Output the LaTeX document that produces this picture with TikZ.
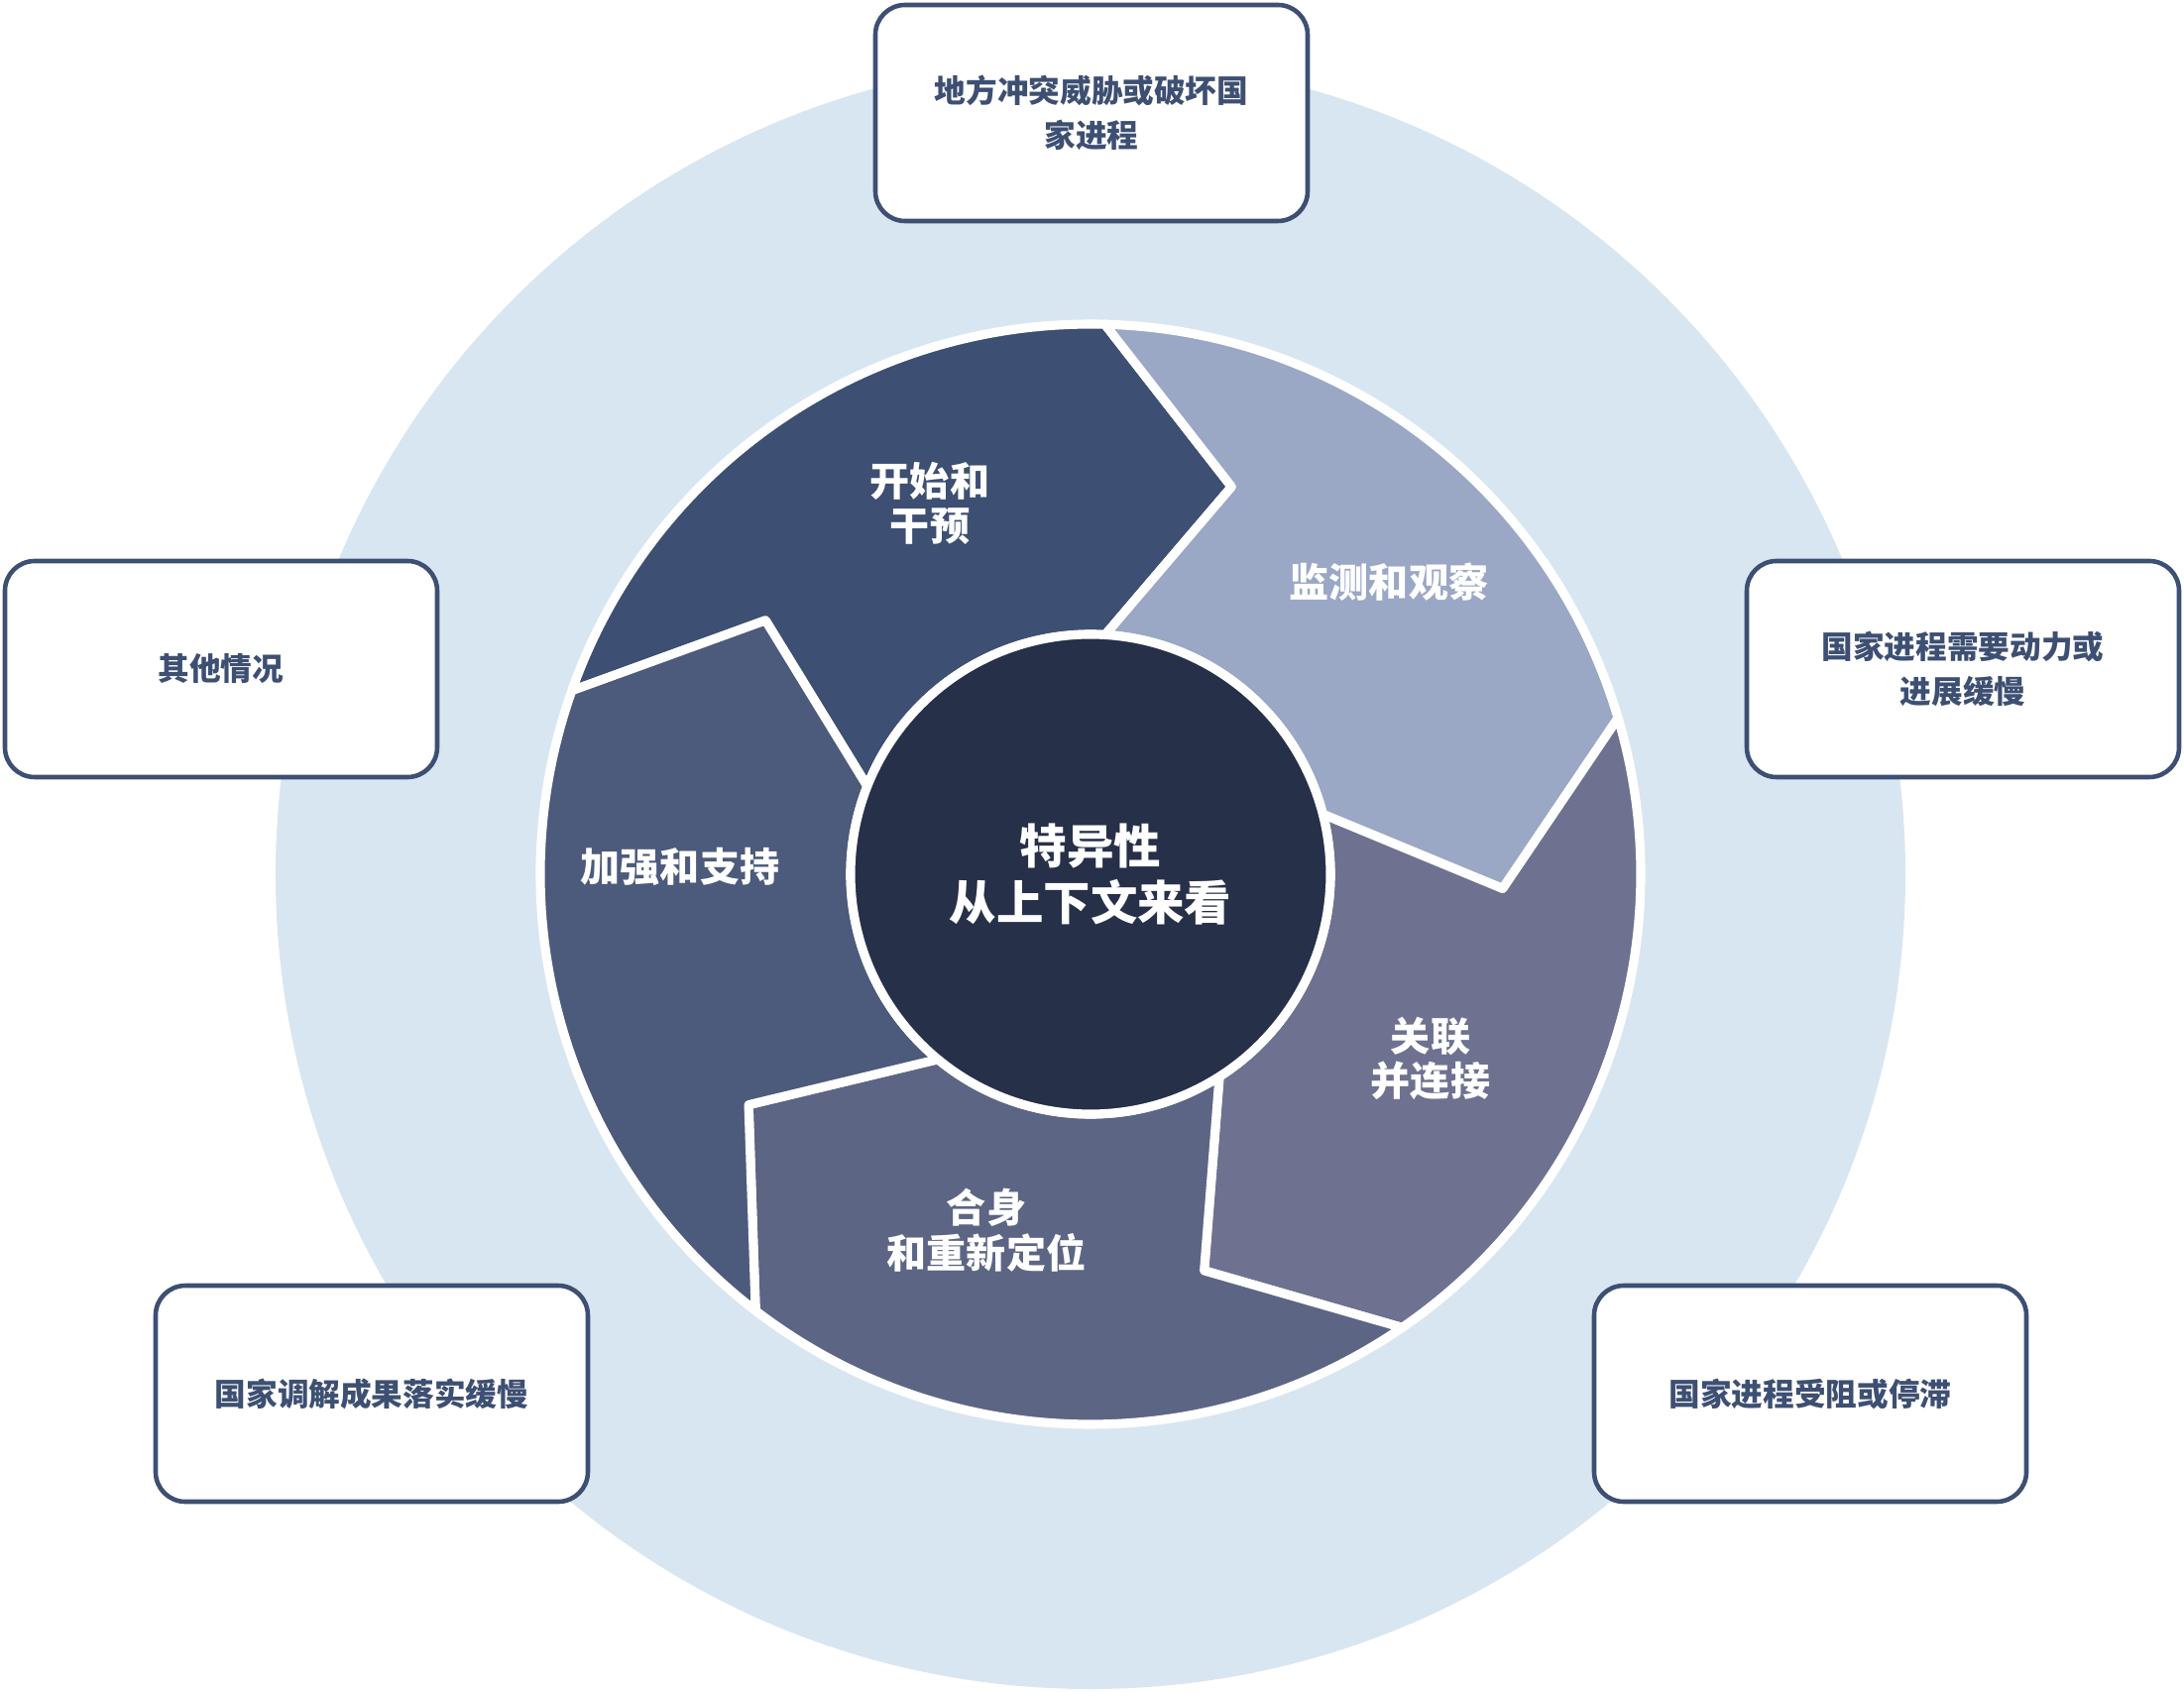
\documentclass[tikz,border=0pt]{standalone}
\usepackage{fontspec}
\newfontfamily\cjk{Noto Sans CJK SC}
\usepackage{tikz}
\usetikzlibrary{calc}
\definecolor{bgBlue}{HTML}{D8E6F1}
\definecolor{boxBlue}{HTML}{3D4F72}
\definecolor{hubNavy}{HTML}{263049}
\definecolor{segStart}{HTML}{3D4F72}
\definecolor{segWatch}{HTML}{9AA8C6}
\definecolor{segLink}{HTML}{6E7290}
\definecolor{segFit}{HTML}{5C6584}
\definecolor{segBack}{HTML}{4C5A7B}
\newcommand{\wheelR}{5.55}
\newcommand{\tipR}{4.16}
\newcommand{\hubR}{2.42}
\tikzset{
  sitBox/.style={draw=boxBlue, line width=1.3pt, fill=white, rounded corners=0.3cm,
    minimum width=4.36cm, minimum height=2.18cm, align=center, text=boxBlue,
    font=\cjk\bfseries\fontsize{9}{12.8}\selectfont},
  wheelPart/.style={draw=white, line width=2.6pt, line join=round},
  segLabel/.style={text=white, align=center, font=\cjk\bfseries\fontsize{11.4}{13}\selectfont},
  hubLabel/.style={text=white, align=center, font=\cjk\bfseries\fontsize{13.5}{16}\selectfont}
}

\begin{document}
\begin{tikzpicture}
  \useasboundingbox (-11.00,-8.24) rectangle (11.03,8.82);
  \coordinate (center) at (0,0);
  \fill[bgBlue] (center) circle (8.22);

  % wheel segments, each one notched at its start and pointing on at its end
  \foreach \a/\col in {160.5/segStart, 88.5/segWatch, 16.5/segLink, -55.5/segFit, -127.5/segBack}{
    \pgfmathsetmacro{\b}{\a-72}
    \filldraw[wheelPart, fill=\col] (\a:\wheelR) arc[start angle=\a, end angle=\b, radius=\wheelR]
      -- ({\b-18.5}:\tipR) -- ({\b-2}:\hubR) arc[start angle=\b-2, end angle=\a-2, radius=\hubR]
      -- ({\a-18.5}:\tipR) -- cycle;
  }
  \filldraw[wheelPart, fill=hubNavy] (center) circle (\hubR);

  \node[hubLabel] (hub) at (center) {特异性\\从上下文来看};
  \node[segLabel] (start) at (-1.62,3.74) {开始和\\干预};
  \node[segLabel] (watch) at (3.01,2.95) {监测和观察};
  \node[segLabel] (link) at (3.43,-1.86) {关联\\并连接};
  \node[segLabel] (fit) at (-1.05,-3.59) {合身\\和重新定位};
  \node[segLabel] (back) at (-4.14,0.08) {加强和支持};

  \node[sitBox] (threat) at (0.01,7.68) {地方冲突威胁或破坏国\\家进程};
  \node[sitBox] (other) at (-8.77,2.07) {其他情况};
  \node[sitBox] (slow) at (8.80,2.07) {国家进程需要动力或\\进展缓慢};
  \node[sitBox] (mediate) at (-7.25,-5.24) {国家调解成果落实缓慢};
  \node[sitBox] (stalled) at (7.26,-5.24) {国家进程受阻或停滞};
\end{tikzpicture}
\end{document}
